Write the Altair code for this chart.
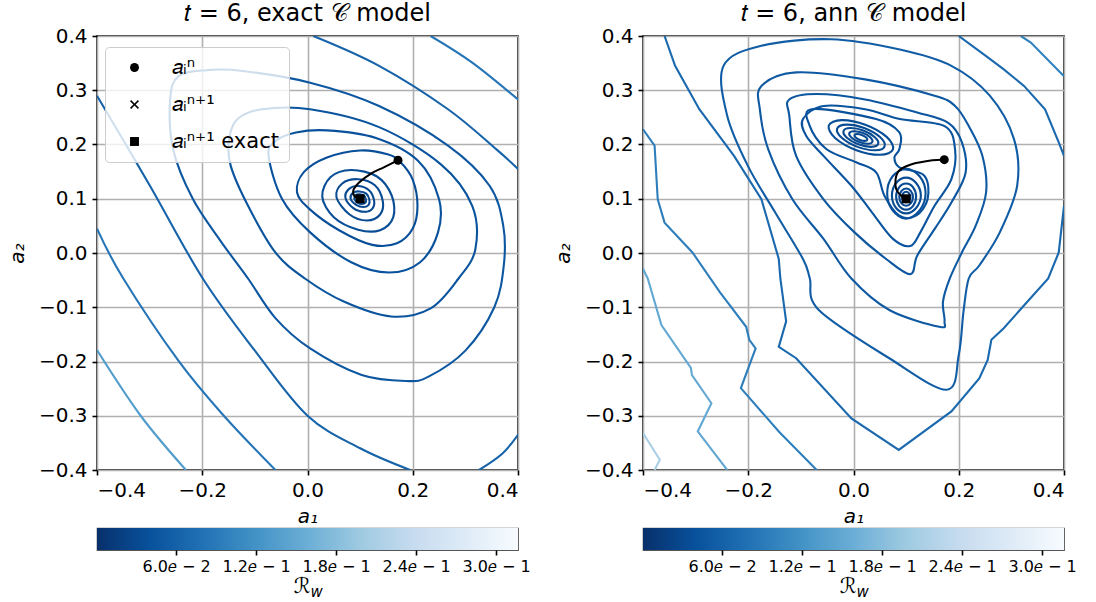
import altair as alt
import pandas as pd

# ---------------- axes / colour bar ----------------
X_TICKS = [-0.4, -0.2, 0.0, 0.2, 0.4]
Y_TICKS = [-0.4, -0.3, -0.2, -0.1, 0.0, 0.1, 0.2, 0.3, 0.4]
CB_MIN, CB_MAX = 0.0007, 0.3165
CB_TICKS = [0.06, 0.12, 0.18, 0.24, 0.30]
BLUES_R = ["#08306b", "#08519c", "#2171b5", "#4292c6", "#6baed6",
           "#9ecae1", "#c6dbef", "#deebf7", "#f7fbff"]
CB_STOPS = [CB_MIN + i * (CB_MAX - CB_MIN) / 8 for i in range(9)]

TITLES = ["𝑡 = 6, exact 𝒞 model", "𝑡 = 6, ann 𝒞 model"]
LEG_LABELS = ["𝑎ᵢⁿ", "𝑎ᵢⁿ⁺¹", "𝑎ᵢⁿ⁺¹ exact"]
X_PATH = "M-1,-0.75L-0.75,-1L0,-0.25L0.75,-1L1,-0.75L0.25,0L1,0.75L0.75,1L0,0.25L-0.75,1L-1,0.75L-0.25,0Z"
LEG_SHAPES = ["circle", X_PATH, "square"]

# ---------------- points and trajectories ----------------
PT_LEFT = [(0.172, 0.171), (0.100, 0.100), (0.100, 0.100)]
PT_RIGHT = [(0.1725, 0.172), (0.100, 0.100), (0.100, 0.100)]
TRAJ_LEFT = [(0.172, 0.171), (0.145, 0.158), (0.120, 0.146), (0.098, 0.130),
             (0.088, 0.118), (0.087, 0.109), (0.094, 0.101), (0.100, 0.100)]
TRAJ_RIGHT = [(0.1725, 0.172), (0.150, 0.171), (0.112, 0.164), (0.087, 0.152),
              (0.080, 0.136), (0.081, 0.118), (0.090, 0.106), (0.100, 0.100)]

# ---------------- left panel contours (exact model) ----------------
L_K = [(0.0888, 0.1), (0.0916, 0.1067), (0.0989, 0.1084), (0.1073, 0.1059), (0.1109, 0.0989), (0.1101, 0.093), (0.1036, 0.0905), (0.0952, 0.093)]
L_J = [(0.082, 0.1), (0.0865, 0.1108), (0.0982, 0.1135), (0.1117, 0.1095), (0.1176, 0.0982), (0.1162, 0.0888), (0.1059, 0.0847), (0.0924, 0.0888)]
L_I = [(0.072, 0.102), (0.0795, 0.1186), (0.0974, 0.1235), (0.1169, 0.1157), (0.1264, 0.0974), (0.1234, 0.0818), (0.1085, 0.0759), (0.087, 0.0828)]
L_H = [(0.055, 0.103), (0.066, 0.128), (0.096, 0.136), (0.128, 0.125), (0.143, 0.096), (0.138, 0.071), (0.113, 0.060), (0.080, 0.071)]
L_G = [(0.028, 0.104), (0.044, 0.140), (0.083, 0.153), (0.132, 0.141), (0.160, 0.106), (0.163, 0.066), (0.138, 0.042), (0.096, 0.043), (0.05, 0.066)]
L_F = [(-0.02, 0.112), (-0.007, 0.149), (0.037, 0.176), (0.1, 0.189), (0.152, 0.182), (0.176, 0.168), (0.2, 0.135), (0.209, 0.087), (0.2, 0.045), (0.17, 0.018), (0.123, 0.015), (0.06, 0.042), (0.005, 0.08)]
L_E = [(-0.074, 0.179), (-0.061, 0.206), (-0.022, 0.222), (0.037, 0.226), (0.13, 0.212), (0.21, 0.17), (0.25, 0.099), (0.248, 0.038), (0.214, -0.017), (0.155, -0.036), (0.083, -0.017), (0.005, 0.038), (-0.048, 0.099)]
L_D = [(-0.149, 0.210), (-0.133, 0.247), (-0.087, 0.265), (0.005, 0.265), (0.136, 0.232), (0.254, 0.163), (0.313, 0.087), (0.319, 0.007), (0.287, -0.047), (0.234, -0.102), (0.159, -0.117), (0.07, -0.09), (-0.005, -0.047), (-0.061, 0.001), (-0.113, 0.087), (-0.146, 0.161)]
L_C = [(-0.261, 0.283), (-0.245, 0.326), (-0.192, 0.337), (-0.127, 0.336), (0.005, 0.314), (0.136, 0.271), (0.267, 0.198), (0.346, 0.124), (0.372, 0.050), (0.373, -0.023), (0.355, -0.1), (0.30, -0.18), (0.23, -0.228), (0.188, -0.236), (0.103, -0.225), (0.005, -0.176), (-0.061, -0.12), (-0.113, -0.047), (-0.165, 0.022), (-0.218, 0.100), (-0.255, 0.190)]
L_B1 = [(0.011, 0.4), (0.136, 0.345), (0.267, 0.265), (0.359, 0.191), (0.4, 0.155)]
L_B2 = [(-0.4, 0.29), (-0.3, 0.125), (-0.199, -0.047), (-0.1, -0.18), (0.0, -0.3), (0.1, -0.36), (0.195, -0.4)]
L_B3 = [(0.326, -0.4), (0.37, -0.37), (0.4, -0.335)]
L_TR = [(0.234, 0.4), (0.313, 0.351), (0.4, 0.283)]
L_A = [(-0.4, 0.045), (-0.35, -0.047), (-0.245, -0.199), (-0.159, -0.3), (-0.061, -0.4)]
L_A0 = [(-0.4, -0.179), (-0.317, -0.3), (-0.231, -0.4)]

# ---------------- right panel contours (ann model) ----------------
R_U1 = [(0.0262, 0.2086), (0.0238, 0.2132), (0.0157, 0.2177), (0.0066, 0.2194), (0.0018, 0.2174), (0.0042, 0.2128), (0.0123, 0.2083), (0.0214, 0.2066)]
R_U2 = [(0.036, 0.2051), (0.0316, 0.2134), (0.0171, 0.2215), (0.0007, 0.2245), (-0.008, 0.2209), (-0.0036, 0.2126), (0.0109, 0.2045), (0.0273, 0.2015)]
R_U3 = [(0.0469, 0.2011), (0.0405, 0.2135), (0.0186, 0.2257), (-0.006, 0.2303), (-0.0189, 0.2249), (-0.0125, 0.2125), (0.0094, 0.2003), (0.034, 0.1957)]
R_U4 = [(0.0591, 0.1967), (0.0503, 0.2137), (0.0203, 0.2304), (-0.0134, 0.2367), (-0.0311, 0.2293), (-0.0223, 0.2123), (0.0077, 0.1956), (0.0414, 0.1893)]
R_U5 = [(0.075, 0.191), (0.063, 0.214), (0.0225, 0.2365), (-0.023, 0.245), (-0.047, 0.235), (-0.035, 0.212), (0.0055, 0.1895), (0.051, 0.181)]
R_W1 = [(0.108, 0.103), (0.1056, 0.110), (0.1, 0.113), (0.0944, 0.110), (0.092, 0.103), (0.0944, 0.096), (0.1, 0.093), (0.1056, 0.096)]
R_W2 = [(0.113, 0.103), (0.1091, 0.1142), (0.1, 0.119), (0.0909, 0.1142), (0.087, 0.103), (0.0909, 0.0918), (0.1, 0.087), (0.1091, 0.0918)]
R_W3 = [(0.119, 0.104), (0.1133, 0.121), (0.1, 0.128), (0.0867, 0.121), (0.081, 0.104), (0.0867, 0.087), (0.1, 0.08), (0.1133, 0.087)]
R_W4 = [(0.128, 0.106), (0.119, 0.129), (0.1, 0.139), (0.081, 0.129), (0.073, 0.106), (0.081, 0.083), (0.1, 0.073), (0.119, 0.083)]
R_W5 = [(0.137, 0.11), (0.126, 0.141), (0.1, 0.155), (0.074, 0.141), (0.064, 0.11), (0.074, 0.079), (0.1, 0.063), (0.126, 0.079)]
R_RA = [(-0.0771, 0.2654), (0.043, 0.247), (0.0872, 0.2224), (0.0872, 0.1917), (0.0777, 0.1764), (0.0872, 0.158), (0.1346, 0.1425), (0.1409, 0.0995), (0.1188, 0.0688), (0.0872, 0.0688), (0.0588, 0.1057), (0.043, 0.1487), (0.0051, 0.1672), (-0.0518, 0.1917), (-0.0834, 0.2347)]
R_R10 = [(-0.096, 0.247), (-0.057, 0.271), (0.022, 0.265), (0.088, 0.247), (0.173, 0.234), (0.193, 0.191), (0.186, 0.136), (0.154, 0.087), (0.127, 0.038), (0.108, 0.013), (0.075, 0.026), (0.035, 0.075), (-0.004, 0.124), (-0.057, 0.179), (-0.09, 0.216)]
R_R9 = [(-0.122, 0.283), (-0.07, 0.293), (0.022, 0.283), (0.121, 0.259), (0.18, 0.24), (0.206, 0.204), (0.213, 0.148), (0.186, 0.093), (0.154, 0.044), (0.121, -0.005), (0.108, -0.039), (0.062, -0.011), (0.002, 0.038), (-0.057, 0.099), (-0.109, 0.179), (-0.122, 0.253)]
R_R8 = [(-0.175, 0.308), (-0.109, 0.333), (0.022, 0.32), (0.154, 0.29), (0.193, 0.271), (0.219, 0.234), (0.245, 0.179), (0.252, 0.112), (0.232, 0.05), (0.206, 0.001), (0.183, -0.047), (0.17, -0.09), (0.173, -0.126), (0.163, -0.136), (0.068, -0.105), (-0.004, -0.047), (-0.057, 0.026), (-0.116, 0.099), (-0.162, 0.191), (-0.178, 0.265)]
R_R7 = [(-0.247, 0.345), (-0.175, 0.382), (-0.043, 0.394), (0.088, 0.375), (0.186, 0.345), (0.259, 0.29), (0.305, 0.21), (0.311, 0.124), (0.278, 0.038), (0.239, -0.023), (0.219, -0.047), (0.209, -0.108), (0.2, -0.188), (0.177, -0.252), (0.068, -0.194), (-0.066, -0.105), (-0.083, -0.047), (-0.096, -0.011), (-0.149, 0.075), (-0.201, 0.161), (-0.24, 0.253)]
R_R4 = [(-0.359, 0.4), (-0.339, 0.345), (-0.293, 0.265), (-0.227, 0.179), (-0.175, 0.099), (-0.142, -0.011), (-0.139, -0.047), (-0.128, -0.126), (-0.142, -0.173), (-0.109, -0.194), (-0.004, -0.305), (0.086, -0.363), (0.186, -0.292), (0.239, -0.231), (0.255, -0.197), (0.262, -0.16), (0.285, -0.139), (0.37, -0.047), (0.39, 0.001), (0.4, 0.087)]
R_R5 = [(0.2, 0.4), (0.252, 0.363), (0.285, 0.339), (0.324, 0.308), (0.364, 0.265), (0.39, 0.204), (0.4, 0.179)]
R_R6 = [(0.318, 0.4), (0.337, 0.388), (0.4, 0.326)]
R_R3 = [(-0.4, 0.228), (-0.378, 0.198), (-0.372, 0.099), (-0.359, 0.056), (-0.306, 0.001), (-0.254, -0.072), (-0.204, -0.136), (-0.198, -0.16), (-0.186, -0.176), (-0.214, -0.249), (-0.142, -0.329), (-0.07, -0.4)]
R_R2 = [(-0.4, -0.029), (-0.391, -0.047), (-0.365, -0.133), (-0.309, -0.212), (-0.307, -0.225), (-0.27, -0.277), (-0.296, -0.329), (-0.24, -0.4)]
R_R1 = [(-0.4, -0.332), (-0.368, -0.381), (-0.378, -0.4)]

# (points, level, kind)  kind: closed / open / jag
LEFT_CONTOURS = [
    (L_K, 0.030, "closed"), (L_J, 0.031, "closed"), (L_I, 0.032, "closed"),
    (L_H, 0.033, "closed"), (L_G, 0.035, "closed"), (L_F, 0.037, "closed"),
    (L_E, 0.040, "closed"), (L_D, 0.044, "closed"), (L_C, 0.048, "closed"),
    (L_B1, 0.062, "open"), (L_B2, 0.062, "open"), (L_B3, 0.062, "open"),
    (L_TR, 0.085, "open"), (L_A, 0.085, "open"), (L_A0, 0.135, "open"),
]
RIGHT_CONTOURS = [
    (R_U1, 0.030, "closed"), (R_U2, 0.031, "closed"), (R_U3, 0.032, "closed"),
    (R_U4, 0.034, "closed"), (R_U5, 0.036, "closed"),
    (R_W1, 0.030, "closed"), (R_W2, 0.031, "closed"), (R_W3, 0.032, "closed"),
    (R_W4, 0.034, "closed"), (R_W5, 0.036, "closed"),
    (R_RA, 0.040, "closed"), (R_R10, 0.043, "closed"), (R_R9, 0.046, "closed"),
    (R_R8, 0.050, "closed"), (R_R7, 0.055, "closed"),
    (R_R4, 0.068, "jag"), (R_R5, 0.068, "jag"), (R_R6, 0.10, "jag"),
    (R_R3, 0.095, "jag"), (R_R2, 0.15, "jag"), (R_R1, 0.21, "jag"),
]

FONT = "DejaVu Sans"
PW, PH = 421, 434
CBH = 22


def contour_frame(contours):
    rows = []
    for cid, (pts, level, kind) in enumerate(contours):
        for k, (a1, a2) in enumerate(pts):
            rows.append({"cid": cid, "k": k, "a1": a1, "a2": a2, "level": level, "kind": kind})
    return pd.DataFrame(rows)


def path_frame(pts):
    return pd.DataFrame([{"k": k, "a1": a, "a2": b} for k, (a, b) in enumerate(pts)])


def main_panel(contours, traj, pts, title, with_legend):
    cdf = contour_frame(contours)
    xs = alt.Scale(domain=[-0.4, 0.4], nice=False, zero=False)
    ys = alt.Scale(domain=[-0.4, 0.4], nice=False, zero=False)
    X = alt.X("a1:Q", scale=xs, axis=alt.Axis(values=X_TICKS, format=".1f", title="a₁"))
    Y = alt.Y("a2:Q", scale=ys, axis=alt.Axis(values=Y_TICKS, format=".1f", title="a₂", titlePadding=11))
    col = alt.Color("level:Q", scale=alt.Scale(domain=CB_STOPS, range=BLUES_R, interpolate="rgb"),
                    legend=None)
    layers = []
    for kind, interp in [("closed", "cardinal-closed"), ("open", "cardinal"), ("jag", "linear")]:
        sub = cdf[cdf["kind"] == kind]
        if len(sub):
            layers.append(
                alt.Chart(sub).mark_line(interpolate=interp, strokeWidth=2.1, clip=True)
                .encode(x=X, y=Y, color=col, detail="cid:N", order="k:Q")
            )
    layers.append(
        alt.Chart(path_frame(traj)).mark_line(color="black", strokeWidth=2, interpolate="cardinal")
        .encode(x=X, y=Y, order="k:Q")
    )
    pdf = pd.DataFrame({"label": LEG_LABELS, "a1": [p[0] for p in pts], "a2": [p[1] for p in pts]})
    if with_legend:
        leg = alt.Legend(orient="none", legendX=8, legendY=11, title=None,
                         fillColor="rgba(255,255,255,0.8)", strokeColor="#cccccc",
                         cornerRadius=4, padding=10, rowPadding=15, labelOffset=27,
                         symbolOffset=9, symbolSize=80, symbolFillColor="black",
                         symbolStrokeColor="black", symbolStrokeWidth=0,
                         labelFont=FONT, labelFontSize=21, labelColor="black")
    else:
        leg = None
    shape = alt.Shape("label:N", scale=alt.Scale(domain=LEG_LABELS, range=LEG_SHAPES), legend=leg)
    layers.append(
        alt.Chart(pdf).mark_point(filled=True, color="black", opacity=1, size=80)
        .encode(x=X, y=Y, shape=shape)
    )
    return alt.layer(*layers).properties(
        width=PW, height=PH,
        title=alt.TitleParams(title, font=FONT, fontSize=24, fontWeight="normal", color="black", offset=0),
        view=alt.ViewBackground(stroke="black", strokeWidth=1.6),
    )


def colorbar():
    df = pd.DataFrame({"lo": [CB_MIN], "hi": [CB_MAX]})
    grad = alt.LinearGradient(
        gradient="linear",
        stops=[alt.GradientStop(color=c, offset=i / 8) for i, c in enumerate(BLUES_R)],
        x1=0, x2=1, y1=0, y2=0,
    )
    bar = alt.Chart(df).mark_rect(color=grad).encode(
        x=alt.X("lo:Q", scale=alt.Scale(domain=[CB_MIN, CB_MAX], nice=False, zero=False),
                axis=alt.Axis(values=CB_TICKS, title=None, grid=False, domain=False,
                              labelExpr="replace(format(datum.value, '.1e'), 'e-', '𝑒 − ')",
                              labelFontSize=16, tickSize=5, labelPadding=3)),
        x2="hi:Q",
        y=alt.value(0), y2=alt.value(CBH),
    )
    r_txt = alt.Chart(df).mark_text(text="ℛ", font=FONT, fontSize=21, align="right",
                                    baseline="alphabetic", color="black").encode(
        x=alt.value(PW / 2 + 3), y=alt.value(CBH + 43))
    w_txt = alt.Chart(df).mark_text(text="w", font=FONT, fontSize=15, fontStyle="italic", align="left",
                                    baseline="alphabetic", color="black").encode(
        x=alt.value(PW / 2 + 3), y=alt.value(CBH + 47))
    return alt.layer(bar, r_txt, w_txt).properties(
        width=PW, height=CBH, view=alt.ViewBackground(stroke="#555555", strokeWidth=1.2))


chart = alt.concat(
    main_panel(LEFT_CONTOURS, TRAJ_LEFT, PT_LEFT, TITLES[0], True),
    main_panel(RIGHT_CONTOURS, TRAJ_RIGHT, PT_RIGHT, TITLES[1], False),
    colorbar(), colorbar(),
    columns=2, spacing={"row": 58, "column": 125}, bounds="flush",
).resolve_scale(
    x="independent", y="independent", shape="independent"
).properties(
    padding={"left": 6, "top": 1, "right": 5, "bottom": 2}
).configure_axis(
    labelFont=FONT, labelFontSize=20, labelColor="black",
    titleFont=FONT, titleFontSize=20, titleFontStyle="italic", titleFontWeight="normal",
    titleColor="black", titlePadding=6,
    tickColor="black", tickWidth=1.6, tickSize=5, labelPadding=5,
    domain=False, gridColor="#b0b0b0", gridWidth=1.6, gridOpacity=1,
)

chart.save("out.html", embed_options={"renderer": "svg", "actions": False})
